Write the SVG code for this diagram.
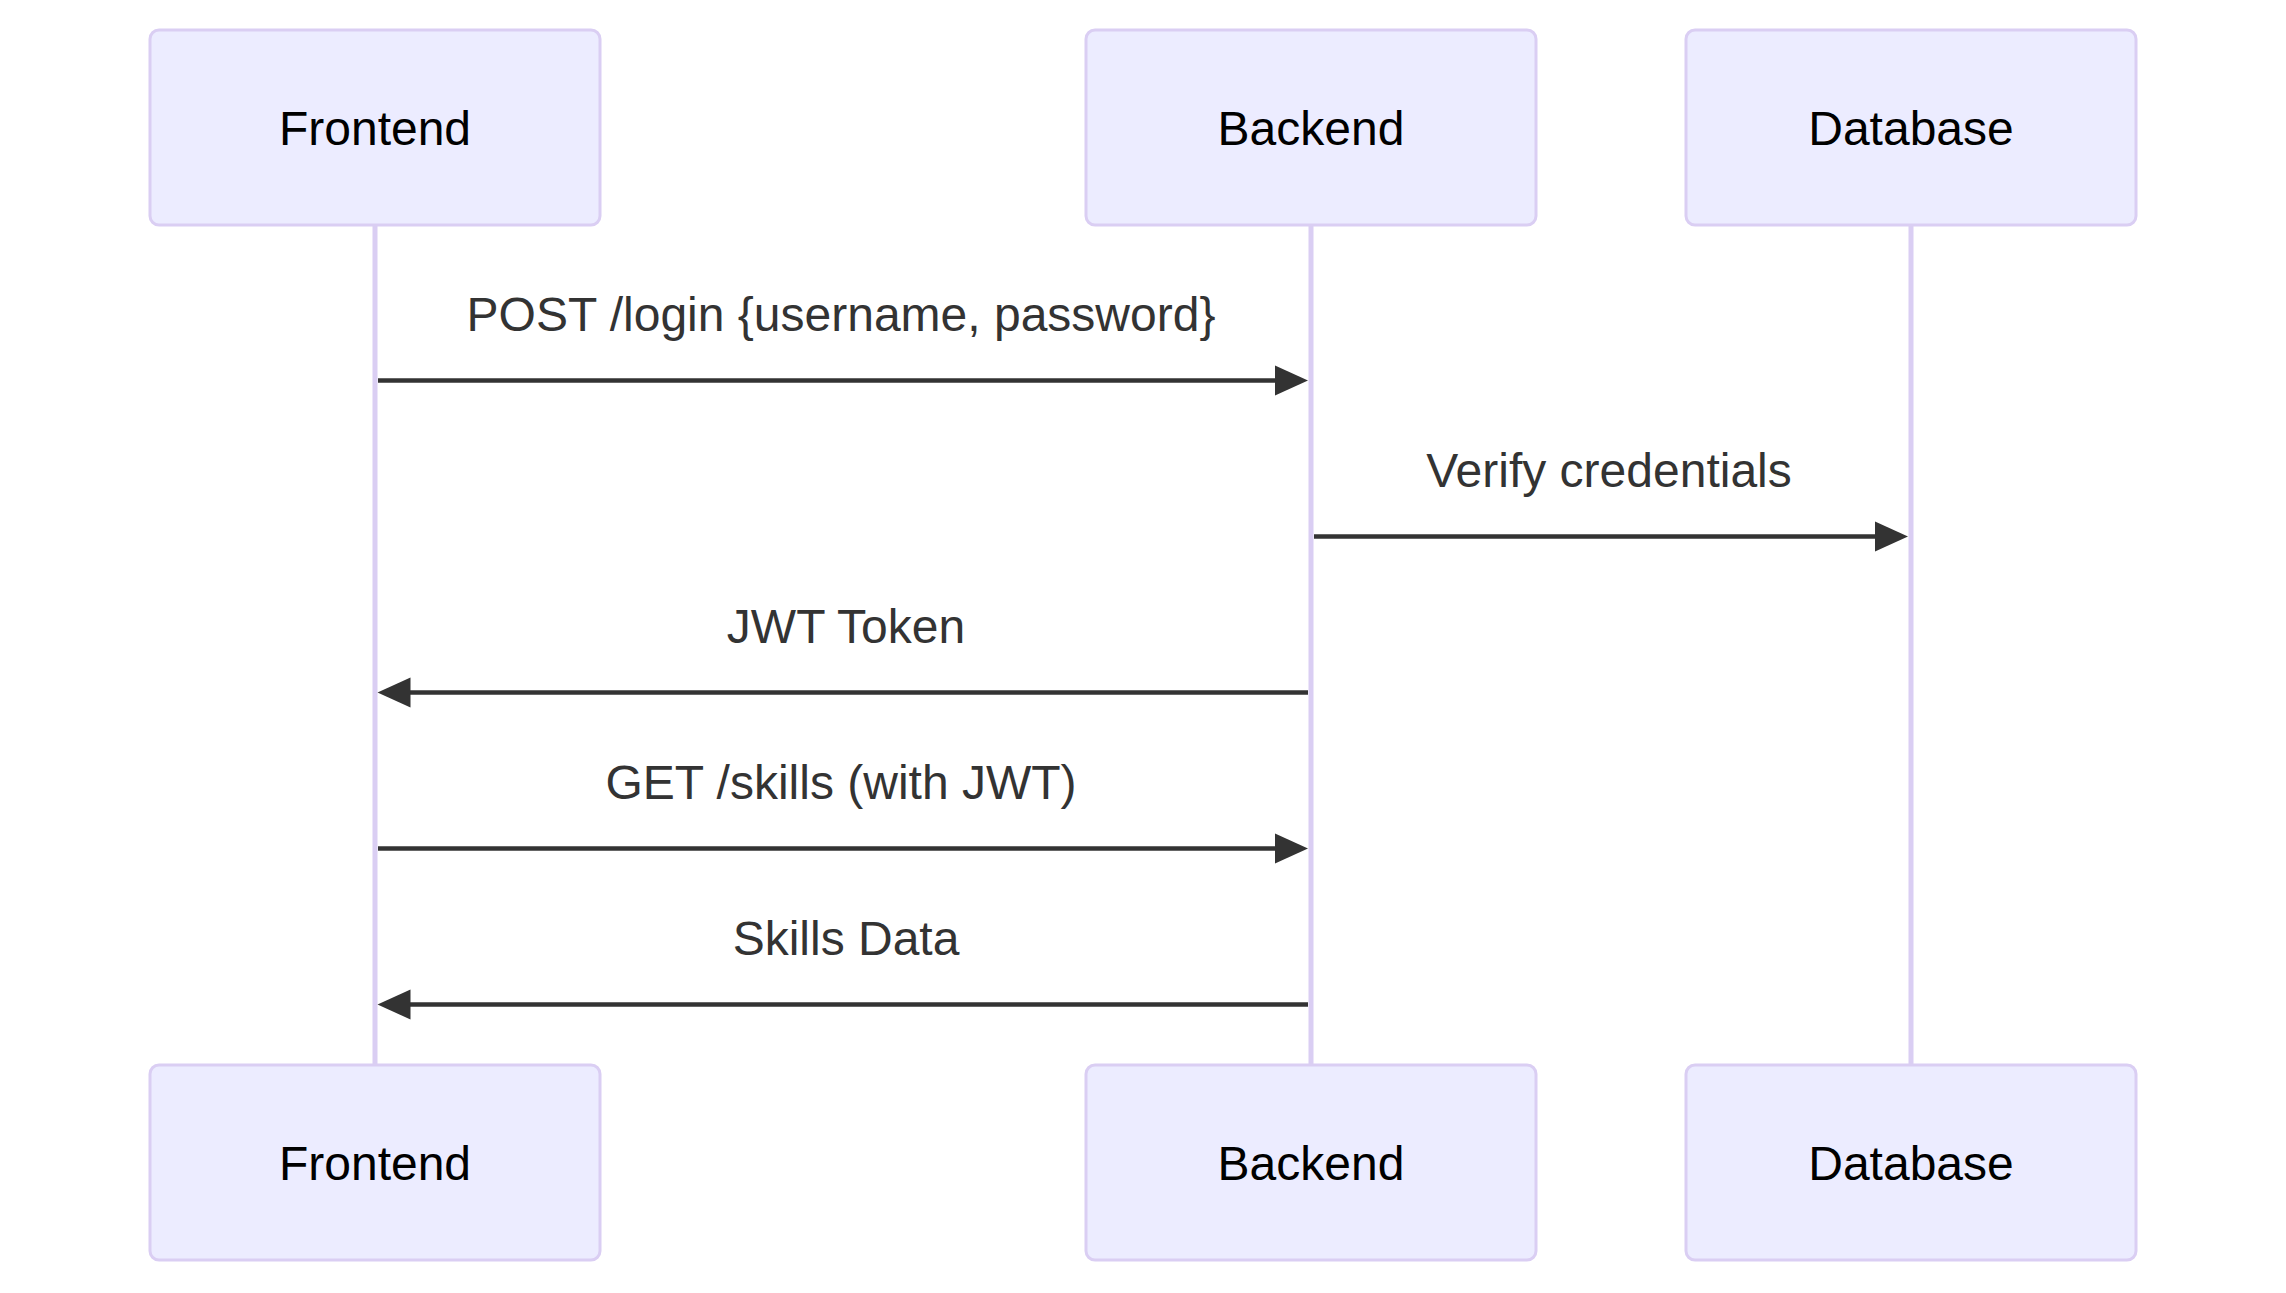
<svg xmlns="http://www.w3.org/2000/svg" width="2286" height="1293" viewBox="0 0 2286 1293">
<style>
.actor{fill:#ECECFF;stroke:#DACEF3;stroke-width:3}
.actor-text{font-family:"Liberation Sans",Arial,sans-serif;font-size:48px;fill:#000;text-anchor:middle}
.lifeline{stroke:#DACEF3;stroke-width:5;fill:none}
.msg{stroke:#333;stroke-width:4.5;fill:none}
.head{fill:#333;stroke:none}
.msg-text{font-family:"Liberation Sans",Arial,sans-serif;font-size:48px;fill:#333;text-anchor:middle}
</style>
<rect width="2286" height="1293" fill="#ffffff"/>
<g id="lifelines">
<line class="lifeline" x1="375" y1="225" x2="375" y2="1065"/>
<line class="lifeline" x1="1311" y1="225" x2="1311" y2="1065"/>
<line class="lifeline" x1="1911" y1="225" x2="1911" y2="1065"/>
</g>
<g id="frontend-top">
<rect class="actor" x="150" y="30" width="450" height="195" rx="9" ry="9"/>
<text class="actor-text" x="375" y="144.5">Frontend</text>
</g>
<g id="backend-top">
<rect class="actor" x="1086" y="30" width="450" height="195" rx="9" ry="9"/>
<text class="actor-text" x="1311" y="144.5">Backend</text>
</g>
<g id="database-top">
<rect class="actor" x="1686" y="30" width="450" height="195" rx="9" ry="9"/>
<text class="actor-text" x="1911" y="144.5">Database</text>
</g>
<g id="frontend-bottom">
<rect class="actor" x="150" y="1065" width="450" height="195" rx="9" ry="9"/>
<text class="actor-text" x="375" y="1180">Frontend</text>
</g>
<g id="backend-bottom">
<rect class="actor" x="1086" y="1065" width="450" height="195" rx="9" ry="9"/>
<text class="actor-text" x="1311" y="1180">Backend</text>
</g>
<g id="database-bottom">
<rect class="actor" x="1686" y="1065" width="450" height="195" rx="9" ry="9"/>
<text class="actor-text" x="1911" y="1180">Database</text>
</g>
<g id="connectors">
<text class="msg-text" x="841" y="331">POST /login {username, password}</text>
<line class="msg" x1="378" y1="380.5" x2="1280" y2="380.5"/>
<polygon class="head" points="1308,380.5 1275,365.5 1275,395.5"/>

<text class="msg-text" x="1609" y="487">Verify credentials</text>
<line class="msg" x1="1314" y1="536.5" x2="1880" y2="536.5"/>
<polygon class="head" points="1908,536.5 1875,521.5 1875,551.5"/>

<text class="msg-text" x="846" y="643">JWT Token</text>
<line class="msg" x1="1308" y1="692.5" x2="406" y2="692.5"/>
<polygon class="head" points="377.5,692.5 410.5,677.5 410.5,707.5"/>

<text class="msg-text" x="841" y="799">GET /skills (with JWT)</text>
<line class="msg" x1="378" y1="848.5" x2="1280" y2="848.5"/>
<polygon class="head" points="1308,848.5 1275,833.5 1275,863.5"/>

<text class="msg-text" x="846" y="955">Skills Data</text>
<line class="msg" x1="1308" y1="1004.5" x2="406" y2="1004.5"/>
<polygon class="head" points="377.5,1004.5 410.5,989.5 410.5,1019.5"/>
</g>
</svg>
